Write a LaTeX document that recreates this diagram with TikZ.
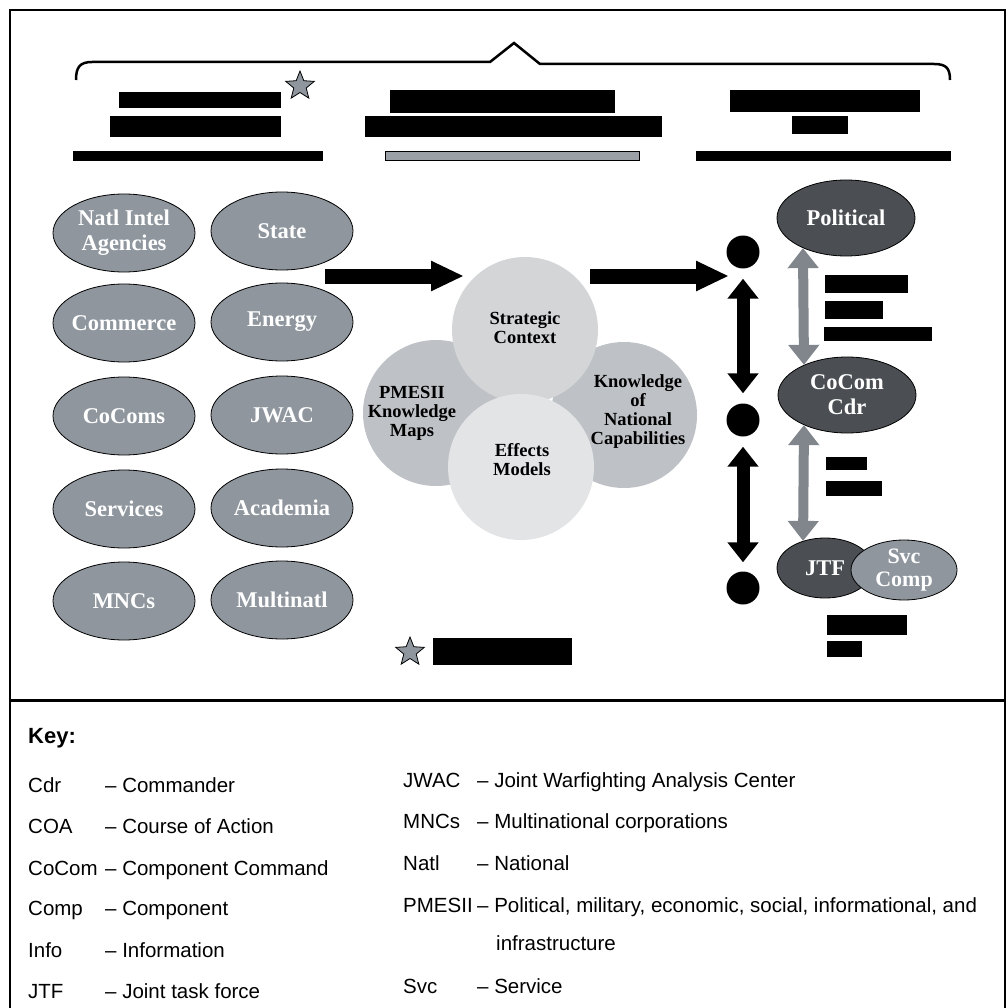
\documentclass[tikz,border=0pt]{standalone}
\usepackage{fontspec}
\setmainfont{Liberation Serif}
\setsansfont{Liberation Sans}
\usetikzlibrary{shapes.geometric,arrows.meta}
\definecolor{orggray}{HTML}{8F969E}
\definecolor{orgdark}{HTML}{4B4F53}
\definecolor{arrgray}{HTML}{80868C}
\definecolor{barfill}{HTML}{9AA0A6}
\definecolor{ringmid}{HTML}{BEC1C5}
\definecolor{ringtop}{HTML}{D3D5D7}
\definecolor{ringlow}{HTML}{E3E4E6}
\tikzset{
  org/.style={ellipse,draw=black,line width=0.8pt,fill=orggray,text=white,
    font=\fontsize{22.5}{25}\selectfont\bfseries,align=center,
    minimum width=142pt,minimum height=78pt,inner xsep=-15pt,inner ysep=-8pt},
  cmd/.style={org,fill=orgdark,minimum width=138pt,minimum height=76pt},
  ring/.style={circle,minimum size=146pt,inner sep=0pt},
  ringtxt/.style={font=\fontsize{18.5}{19}\selectfont\bfseries,align=center,inner sep=0pt},
  dot/.style={circle,fill=black,minimum size=33pt,inner sep=0pt},
  bigarrow/.style={line width=15pt,-{Triangle[length=33pt,width=28pt]}},
  blkdbl/.style={line width=13pt,{Triangle[length=20pt,width=30pt]}-{Triangle[length=20pt,width=30pt]}},
  grydbl/.style={draw=arrgray,line width=10pt,{Triangle[length=20pt,width=30pt]}-{Triangle[length=20pt,width=30pt]}},
  gstar/.style={star,star points=5,star point ratio=2.3,fill=orggray,draw=black,
    line width=0.8pt,minimum size=30pt,inner sep=0pt},
  keytxt/.style={font=\sffamily\fontsize{20.5}{25}\selectfont,anchor=base west,inner sep=0pt},
}
\begin{document}
\begin{tikzpicture}[x=1pt,y=-1pt]
\useasboundingbox (0,0) rectangle (1007,1008);
% frame
\draw[line width=2.5pt] (10,1010) -- (10,10) -- (1005,10) -- (1005,1010);
\draw[line width=3pt] (10,700) -- (1005,700);
% brace
\draw[line width=2.5pt] (76,80) .. controls (76,67) and (80,62) .. (92,62) -- (490,62) -- (514,43)
  -- (540,64) -- (934,64) .. controls (946,64) and (950,68) .. (950,80);
% blacked out headings
\foreach \xa/\ya/\xb/\yb in {119/92/281/108, 110/116/281/137, 73/151/323/161,
  390/90/615/113, 365/116/662/137, 730/90/920/112, 792/116/848/134, 696/151/951/161,
  825/275/908/293, 825/301/883/319, 824/327/932/341, 826/457/867/470, 826/481/882/496,
  827/615/907/635, 827/641/862/657, 433/638/572/665}
  \fill (\xa,\ya) rectangle (\xb,\yb);
\filldraw[fill=barfill,draw=black,line width=1pt] (385,152) rectangle (639,161);
\node[gstar] (star1) at (300,86) {};
\node[gstar] (star2) at (410,652) {};
% sources
\foreach \nm/\lbl/\cx/\cy in {natl/{Natl Intel\\Agencies}/124/233, state/State/282/231,
  commerce/Commerce/124/323, energy/Energy/282/322,
  cocoms/CoComs/124/416, jwac/JWAC/282/415,
  services/Services/124/509, academia/Academia/282/508,
  mncs/MNCs/124/601, multinatl/Multinatl/282/600}
  \node[org] (\nm) at (\cx,\cy) {\lbl};
% knowledge rings
\node[ring,fill=ringmid] (pmesii) at (436,413) {};
\node[ring,fill=ringmid] (knowl) at (624,415) {};
\node[ring,fill=ringtop] (strat) at (525,330) {};
\node[ring,fill=ringlow] (effects) at (521,467) {};
\node[ringtxt] (strattxt) at (525,328) {Strategic\\Context};
\node[ringtxt] (pmesiitxt) at (412,413) {PMESII\\Knowledge\\Maps};
\node[ringtxt] (knowltxt) at (638,412) {Knowledge\\of\\National\\Capabilities};
\node[ringtxt] (effectstxt) at (522,460) {Effects\\Models};
\coordinate (in1) at (325,276);
\coordinate (in2) at (464,276);
\coordinate (out1) at (590,276);
\coordinate (out2) at (729,276);
\draw[bigarrow] (in1) -- (in2);
\draw[bigarrow] (out1) -- (out2);
% command chain
\node[dot] (dot1) at (743,252) {};
\node[dot] (dot2) at (743,420) {};
\node[dot] (dot3) at (743,588) {};
\draw[blkdbl,shorten <=10pt,shorten >=10pt] (dot1) -- (dot2);
\draw[blkdbl,shorten <=10pt,shorten >=9pt] (dot2) -- (dot3);
\node[cmd] (pol) at (846,218) {Political};
\node[cmd] (cocom) at (847,395) {CoCom\\Cdr};
\node[cmd,minimum width=96pt,minimum height=60pt] (jtf) at (825,568) {JTF};
\node[org,minimum width=106pt,minimum height=60pt,font=\fontsize{22}{23}\selectfont\bfseries] (svc) at (904,570) {Svc\\Comp};
\draw[grydbl] (pol.215) -- (cocom.145);
\draw[grydbl] (cocom.215) -- (jtf.129);
% key
\node[keytxt,font=\sffamily\bfseries\fontsize{22}{25}\selectfont] (keyhd) at (28,743) {Key:};
\foreach \ab/\df/\yy in {Cdr/Commander/792, COA/Course of Action/833, CoCom/Component Command/875,
  Comp/Component/915, Info/Information/957, JTF/Joint task force/998}{
  \node[keytxt] at (28,\yy) {\ab};
  \node[keytxt] at (105,\yy) {-- \df};
}
\foreach \ab/\df/\yy in {JWAC/Joint Warfighting Analysis Center/787, MNCs/Multinational corporations/828,
  Natl/National/870, PMESII/{Political, military, economic, social, informational, and}/912, Svc/Service/993}{
  \node[keytxt] at (403,\yy) {\ab};
  \node[keytxt] at (477,\yy) {-- \df};
}
\node[keytxt] at (496,950) {infrastructure};
\end{tikzpicture}
\end{document}
